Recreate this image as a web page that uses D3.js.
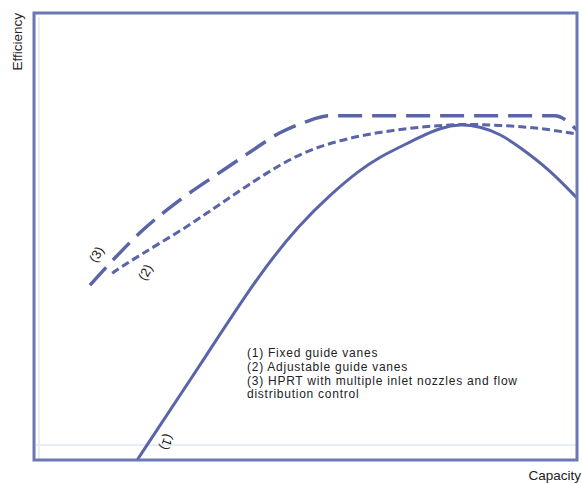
<!DOCTYPE html>
<html>
<head>
<meta charset="utf-8">
<script src="https://cdn.jsdelivr.net/npm/d3@7"></script>
<style>
  body { margin: 0; background: #fff; }
  text { font-family: "Liberation Sans", Arial, sans-serif; fill: #222; }
</style>
</head>
<body>
<svg id="chart" width="582" height="483"></svg>
<script>
// capacity (x) / efficiency (y), both on a 0..100 scale
const fixedVanes = [
  [19.0, 0], [32.4, 24.6], [41.6, 41.8], [49.0, 52.8], [54.5, 59.3], [60.0, 64.9],
  [63.7, 67.8], [67.4, 70.0], [71.1, 72.3], [74.8, 74.3], [78.5, 75.2], [82.1, 74.6],
  [85.8, 73.0], [89.5, 70.0], [95.0, 64.9], [100, 58.6]
];
const adjustableVanes = [
  [14.4, 41.8], [19.5, 45.9], [27.4, 51.5], [34.3, 57.3], [41.6, 63.3], [49.0, 68.7],
  [56.4, 71.6], [63.7, 73.4], [71.1, 74.5], [78.5, 75.2], [85.8, 74.9], [93.2, 74.3], [100, 72.9]
];
const hprt = [
  [10.3, 39.1], [14.9, 45.2], [20.1, 51.5], [26.9, 58.2], [34.3, 64.4], [39.8, 68.9],
  [45.3, 73.2], [49.9, 75.6], [54.5, 77.0], [95.9, 77.0], [100, 73.8]
];
const curveLabels = [
  { text: "(1)", x: 24.5, y: 4.0, angle: 110 },
  { text: "(2)", x: 20.5, y: 42.0, angle: -60 },
  { text: "(3)", x: 11.5, y: 46.0, angle: -60 }
];
const legendLines = [
  "(1) Fixed guide vanes",
  "(2) Adjustable guide vanes",
  "(3) HPRT with multiple inlet nozzles and flow",
  "distribution control"
];

const svg = d3.select("#chart");
const frame = { left: 34, right: 577, top: 13, bottom: 460 };
const lineColor = "#5a64a8";

let x = d3.scaleLinear().domain([0, 100]).range([frame.left, frame.right]);
let y = d3.scaleLinear().domain([0, 100]).range([frame.bottom, frame.top]);

svg.append("defs").append("clipPath").attr("id", "plotClip")
  .append("rect").attr("x", frame.left).attr("y", frame.top)
  .attr("width", frame.right - frame.left).attr("height", frame.bottom - frame.top);

// faint inner guide lines
svg.append("line").attr("x1", frame.left + 5).attr("x2", frame.left + 5)
  .attr("y1", frame.top + 4).attr("y2", frame.bottom)
  .attr("stroke", "#e8eef6").attr("stroke-width", 2);
svg.append("line").attr("x1", frame.left).attr("x2", frame.right)
  .attr("y1", frame.bottom - 15).attr("y2", frame.bottom - 15)
  .attr("stroke", "#e8eef6").attr("stroke-width", 2);

const smooth = d3.line()
  .x(d => x(d[0]))
  .y(d => y(d[1]))
  .curve(d3.curveBasis);
const cornered = d3.line()
  .x(d => x(d[0]))
  .y(d => y(d[1]))
  .curve(d3.curveMonotoneX);

const g = svg.append("g").attr("clip-path", "url(#plotClip)");

g.append("path").datum(fixedVanes)
  .attr("d", smooth).attr("fill", "none")
  .attr("stroke", lineColor).attr("stroke-width", 3);
g.append("path").datum(adjustableVanes)
  .attr("d", smooth).attr("fill", "none")
  .attr("stroke", lineColor).attr("stroke-width", 3)
  .attr("stroke-dasharray", "8,4");
g.append("path").datum(hprt)
  .attr("d", cornered).attr("fill", "none")
  .attr("stroke", lineColor).attr("stroke-width", 3.5)
  .attr("stroke-dasharray", "24,10");

// frame
svg.append("rect")
  .attr("x", frame.left).attr("y", frame.top)
  .attr("width", frame.right - frame.left).attr("height", frame.bottom - frame.top)
  .attr("fill", "none").attr("stroke", "#6b79b2").attr("stroke-width", 3);

svg.selectAll(".curveLabel").data(curveLabels).enter()
  .append("text")
  .attr("class", "curveLabel")
  .attr("text-anchor", "middle")
  .attr("dominant-baseline", "central")
  .attr("font-size", 13)
  .attr("transform", d => "translate(" + x(d.x) + "," + y(d.y) + ") rotate(" + d.angle + ")")
  .text(d => d.text);

svg.selectAll(".legendLine").data(legendLines).enter()
  .append("text")
  .attr("class", "legendLine")
  .attr("x", 247)
  .attr("y", (d, i) => 357 + i * 13.8)
  .attr("font-size", 12)
  .attr("letter-spacing", 0.75)
  .text(d => d);

svg.append("text")
  .attr("transform", "translate(22,13) rotate(-90)")
  .attr("text-anchor", "end")
  .attr("font-size", 13.5)
  .text("Efficiency");

svg.append("text")
  .attr("x", 581).attr("y", 480)
  .attr("text-anchor", "end")
  .attr("font-size", 13.5)
  .text("Capacity");
</script>
</body>
</html>
